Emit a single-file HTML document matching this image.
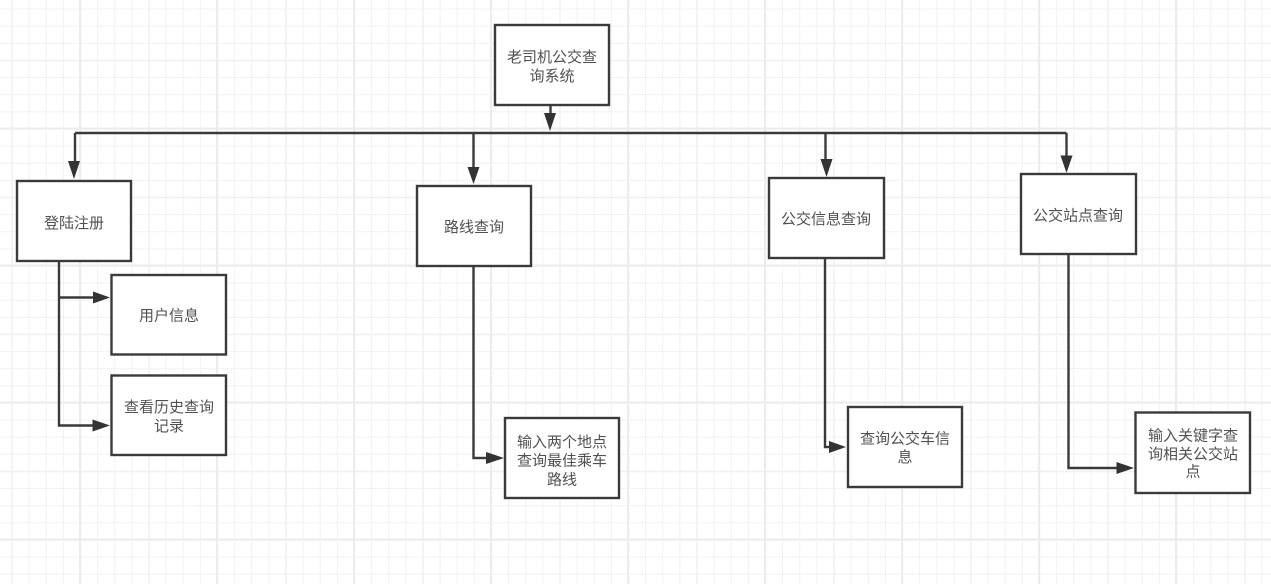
<!DOCTYPE html>
<html>
<head>
<meta charset="utf-8">
<style>
html,body{margin:0;padding:0;background:#fff;}
body{width:1271px;height:584px;overflow:hidden;}
svg{display:block;filter:blur(0.35px);}
text{font-family:"Liberation Sans","Noto Sans CJK SC",sans-serif;font-size:15px;fill:#505050;text-anchor:middle;}
.b{fill:#fff;stroke:#3a3a3a;stroke-width:2.4;}
.c{fill:none;stroke:#3a3a3a;stroke-width:2.4;}
.a{fill:#333;}
</style>
</head>
<body>
<svg width="1271" height="584" viewBox="0 0 1271 584" xmlns="http://www.w3.org/2000/svg">
<rect width="1271" height="584" fill="#fff"/>
<defs>
<pattern id="minor" x="11.5" y="8.6" width="17.125" height="17.125" patternUnits="userSpaceOnUse">
<path d="M0.5 0V17.125M0 0.5H17.125" fill="none" stroke="#e6e6e6" stroke-width="1" stroke-dasharray="1 1"/>
</pattern>
<pattern id="mid" x="11" y="59.500" width="68.500" height="68.500" patternUnits="userSpaceOnUse">
<path d="M1 0V68.500M0 1H68.500" fill="none" stroke="#f0f0f0" stroke-width="1.500"/>
</pattern>
<pattern id="major" x="79" y="127.500" width="137" height="137" patternUnits="userSpaceOnUse">
<path d="M1 0V137M0 1H137" fill="none" stroke="#ececec" stroke-width="2"/>
</pattern>
</defs>
<rect width="1271" height="584" fill="url(#minor)"/>
<rect width="1271" height="584" fill="url(#mid)"/>
<rect width="1271" height="584" fill="url(#major)"/>

<path class="c" d="M75 133H1066.500"/>
<path class="c" d="M550.500 105V120"/>
<path class="c" d="M75 133V165"/>
<path class="c" d="M473.500 133V170"/>
<path class="c" d="M825.500 133V162"/>
<path class="c" d="M1066.500 133V158"/>
<path class="c" d="M59 261V425.500H95"/>
<path class="c" d="M59 297.500H95"/>
<path class="c" d="M473.500 266V458H488"/>
<path class="c" d="M825 258V447H832"/>
<path class="c" d="M1068.500 254V468H1119"/>

<path class="a" d="M550 131L544 113H556Z"/>
<path class="a" d="M74 179L68 161H80Z"/>
<path class="a" d="M473.500 184L467.500 167H479.500Z"/>
<path class="a" d="M826.500 177L820.500 159H832.500Z"/>
<path class="a" d="M1066.500 173L1060.500 155.500H1072.500Z"/>
<path class="a" d="M110 297.500L93 291.500V303.500Z"/>
<path class="a" d="M110 425.500L92.500 419.500V431.500Z"/>
<path class="a" d="M504 458L486 452V464Z"/>
<path class="a" d="M846 447L829 441V453Z"/>
<path class="a" d="M1134 468L1116.500 462V474Z"/>

<rect class="b" x="495" y="25" width="114" height="80"/>
<rect class="b" x="17" y="181" width="114" height="80"/>
<rect class="b" x="111.500" y="275" width="114.500" height="79.500"/>
<rect class="b" x="111.500" y="375.500" width="114.500" height="79.500"/>
<rect class="b" x="417" y="186" width="114" height="80"/>
<rect class="b" x="505" y="418" width="114" height="80"/>
<rect class="b" x="769" y="178" width="115" height="80"/>
<rect class="b" x="848" y="407" width="114" height="80"/>
<rect class="b" x="1021" y="174" width="115" height="80"/>
<rect class="b" x="1135.500" y="412.500" width="114.500" height="80.500"/>

<text x="552" y="62">老司机公交查</text>
<text x="552" y="81">询系统</text>
<text x="74" y="228">登陆注册</text>
<text x="169" y="320.500">用户信息</text>
<text x="169" y="412">查看历史查询</text>
<text x="169" y="431">记录</text>
<text x="474" y="232">路线查询</text>
<text x="562" y="447">输入两个地点</text>
<text x="562" y="465.500">查询最佳乘车</text>
<text x="562" y="484.500">路线</text>
<text x="826" y="224">公交信息查询</text>
<text x="905" y="443.500">查询公交车信</text>
<text x="905" y="462">息</text>
<text x="1078" y="220.500">公交站点查询</text>
<text x="1193" y="440.500">输入关键字查</text>
<text x="1193" y="459">询相关公交站</text>
<text x="1193" y="476.500">点</text>
</svg>
</body>
</html>
